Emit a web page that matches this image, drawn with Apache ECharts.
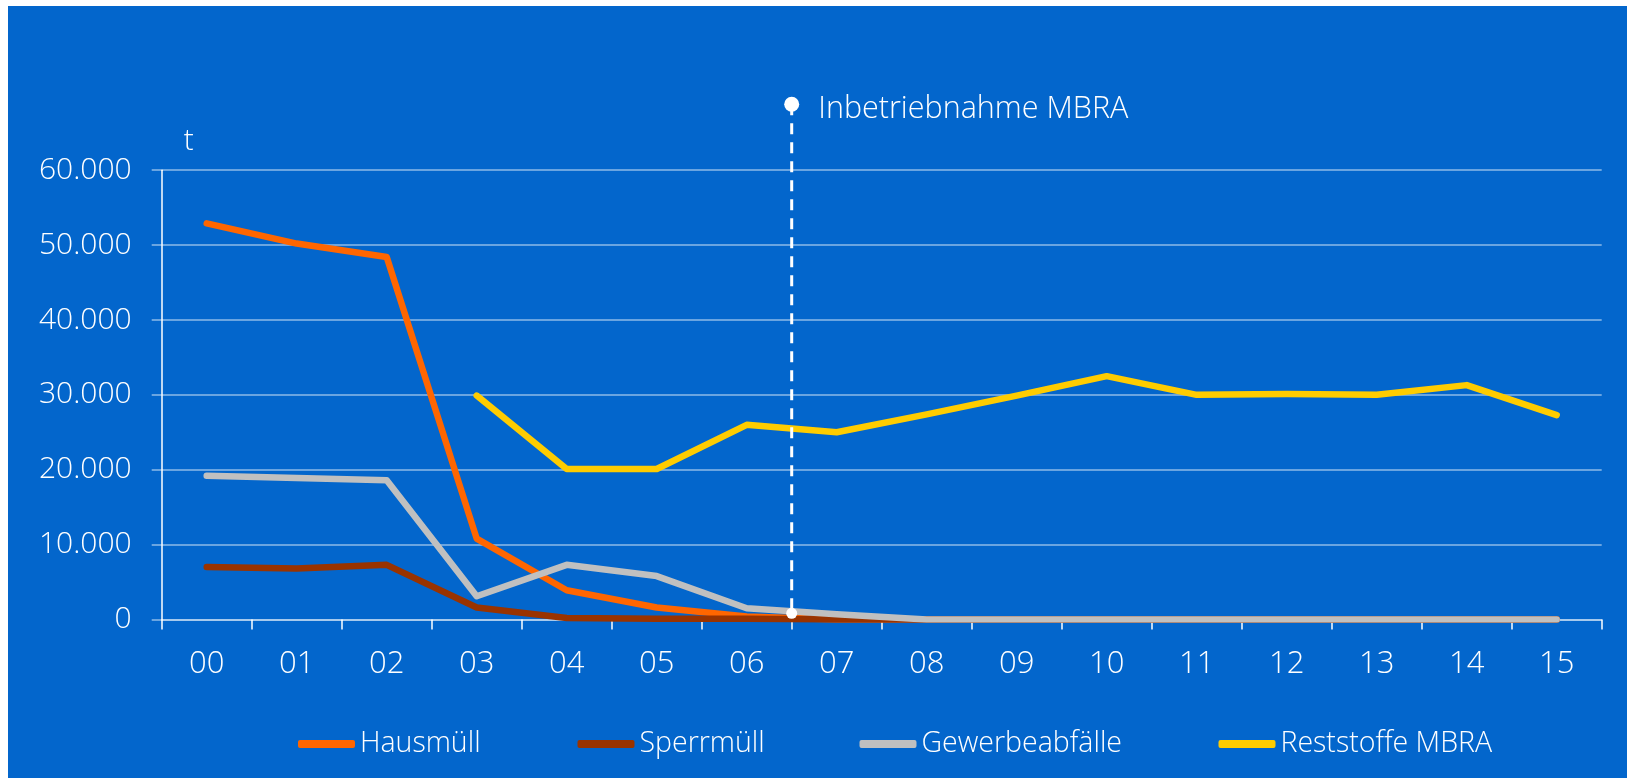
<!DOCTYPE html>
<html>
<head>
<meta charset="utf-8">
<script src="https://cdn.jsdelivr.net/npm/echarts@6/dist/echarts.min.js"></script>
<style>
  html, body { margin: 0; padding: 0; background: #ffffff; width: 1627px; height: 778px; overflow: hidden; }
  #chart { position: absolute; left: 8px; top: 6px; width: 1619px; height: 772px; }
</style>
</head>
<body>
<div id="chart"></div>
<script>
// ---- data ----
const years = ['00','01','02','03','04','05','06','07','08','09','10','11','12','13','14','15'];
const hausmuell = [52900, 50200, 48400, 10800, 3900, 1600, 400, 0, 0, 0, 0, 0, 0, 0, 0, 0];
const sperrmuell = [7000, 6800, 7300, 1600, 200, 100, 100, 0, 0, 0, 0, 0, 0, 0, 0, 0];
const gewerbeabfaelle = [19200, 18900, 18600, 3100, 7300, 5800, 1500, 700, 0, 0, 0, 0, 0, 0, 0, 0];
const reststoffe = [null, null, null, 29900, 20100, 20100, 26000, 25000, 27400, 29900, 32500, 30000, 30100, 30000, 31300, 27300];
const yTickLabels = ['0', '10.000', '20.000', '30.000', '40.000', '50.000', '60.000'];
const seriesNames = ['Hausmüll', 'Sperrmüll', 'Gewerbeabfälle', 'Reststoffe MBRA'];
const annotationText = 'Inbetriebnahme MBRA';
const annotationX = 6.5;          // boundary between 06 and 07
const annotationTop = 68800;      // marker position (t)
const annotationBottom = 830;     // lower dot (t)

// ---- styles ----
const FONT = '"Open Sans", "Noto Sans", sans-serif';
const colors = ['#FF6600', '#993300', '#C0C0C0', '#FFCC00'];
const gridColor = 'rgba(255,255,255,0.55)';
const seriesData = [hausmuell, sperrmuell, gewerbeabfaelle, reststoffe];

const chart = echarts.init(document.getElementById('chart'), null, { renderer: 'canvas' });

const lineSeries = seriesNames.map((n, i) => ({
  name: n,
  type: 'line',
  data: seriesData[i],
  symbol: 'none',
  showSymbol: false,
  color: colors[i],
  lineStyle: { color: colors[i], width: 6.5, cap: 'round', join: 'round' },
  z: 2 + i,
  animation: false
}));

const legendLefts = [285, 564.5, 846.5, 1205.5];
const legends = seriesNames.map((n, i) => ({
  data: [{ name: n, icon: 'roundRect' }],
  left: legendLefts[i],
  top: 718,
  itemWidth: 57,
  itemHeight: 8,
  itemGap: 0,
  textStyle: { color: '#ffffff', fontSize: 28.5, fontFamily: FONT, fontWeight: 300, lineHeight: 30 },
  selectedMode: false
}));

chart.setOption({
  backgroundColor: '#0366CC',
  animation: false,
  textStyle: { fontFamily: FONT },
  legend: legends,
  grid: { left: 153.7, right: 25.3, top: 164.2, bottom: 158.5, containLabel: false },
  xAxis: [{
    type: 'category',
    data: years,
    boundaryGap: true,
    axisLine: { show: true, onZero: false, lineStyle: { color: gridColor, width: 1.5 } },
    axisTick: { show: true, length: 10, lineStyle: { color: '#ffffff', width: 1.5 } },
    axisLabel: { color: '#ffffff', fontSize: 31, fontFamily: FONT, fontWeight: 300, margin: 29 },
    splitLine: { show: false }
  }, {
    type: 'value',
    min: -0.5,
    max: 15.5,
    show: false
  }],
  yAxis: {
    type: 'value',
    min: 0,
    max: 60000,
    interval: 10000,
    name: 't',
    nameLocation: 'end',
    nameGap: 14,
    nameTextStyle: { color: '#ffffff', fontSize: 30, fontFamily: FONT, fontWeight: 300, align: 'left', padding: [0, 0, 0, 22] },
    axisLine: { show: true, onZero: false, lineStyle: { color: '#ffffff', width: 1.5 } },
    axisTick: { show: true, length: 10, lineStyle: { color: gridColor, width: 1.5 } },
    axisLabel: {
      color: '#ffffff', fontSize: 30, fontFamily: FONT, fontWeight: 300, margin: 30,
      formatter: v => yTickLabels[Math.round(v / 10000)]
    },
    splitLine: { show: true, lineStyle: { color: gridColor, width: 1.5 } }
  },
  series: [
    ...lineSeries,
    {
      name: 'annotation-line',
      type: 'line',
      xAxisIndex: 1,
      data: [[annotationX, annotationTop], [annotationX, annotationBottom]],
      symbol: 'none',
      clip: false,
      silent: true,
      lineStyle: { color: '#ffffff', width: 3, type: [11, 8], opacity: 1 },
      z: 10
    },
    {
      name: 'annotation-top',
      type: 'scatter',
      xAxisIndex: 1,
      data: [[annotationX, annotationTop]],
      symbol: 'circle',
      symbolSize: 15,
      clip: false,
      silent: true,
      itemStyle: { color: '#ffffff', opacity: 1 },
      label: {
        show: true,
        position: 'right',
        distance: 19,
        offset: [0, 5],
        formatter: annotationText,
        color: '#ffffff',
        fontSize: 30.5,
        fontFamily: FONT,
        fontWeight: 300
      },
      z: 11
    },
    {
      name: 'annotation-bottom',
      type: 'scatter',
      xAxisIndex: 1,
      data: [[annotationX, annotationBottom]],
      symbol: 'circle',
      symbolSize: 11,
      clip: false,
      silent: true,
      itemStyle: { color: '#ffffff', opacity: 1 },
      z: 11
    }
  ]
});
</script>
</body>
</html>
